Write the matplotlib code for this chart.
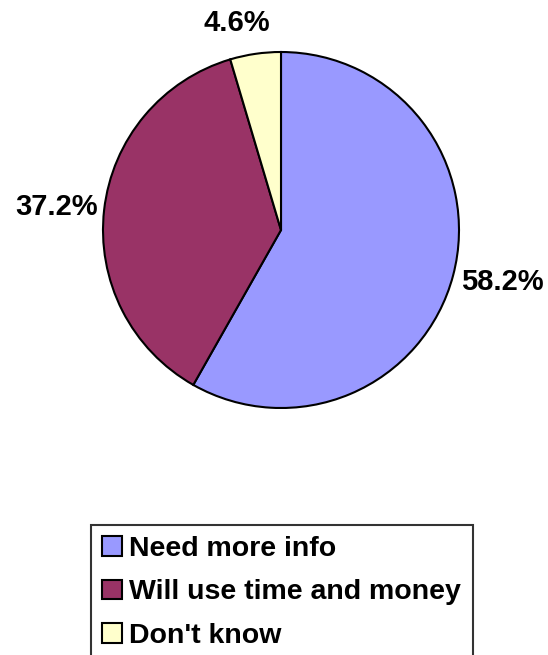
import numpy as np
import matplotlib
matplotlib.use("Agg")
import matplotlib.pyplot as plt

categories = ["Need more info", "Will use time and money", "Don't know"]
values = [58.2, 37.2, 4.6]
colors = ["#9999FF", "#993366", "#FFFFCC"]
label_r = [1.276, 1.27, 1.19]
label_dang = [1.6, 0.7, 3.7]

plt.rcParams['font.family'] = ['Liberation Sans', 'DejaVu Sans']

W, H = 548, 655
fig = plt.figure(figsize=(W / 100, H / 100), dpi=100)
cx, cy, r = 281, 230, 178
ax = fig.add_axes([(cx - r) / W, 1 - (cy + r) / H, 2 * r / W, 2 * r / H])

wedges, _ = ax.pie(values, colors=colors, startangle=90, counterclock=False,
                   radius=1, wedgeprops=dict(edgecolor='black', linewidth=1.5))
ax.set_xlim(-1, 1)
ax.set_ylim(-1, 1)
ax.set_aspect('equal')
ax.axis('off')

for w, v, rr, da in zip(wedges, values, label_r, label_dang):
    mid = np.deg2rad((w.theta1 + w.theta2) / 2 + da)
    ax.text(rr * np.cos(mid), rr * np.sin(mid), f"{v:.1f}%", ha='center', va='center',
            fontsize=21, fontweight='bold', clip_on=False)

leg = fig.legend(wedges, categories, loc='upper left',
                 bbox_to_anchor=(91 / W, 1 - 525 / H),
                 prop=dict(size=20.5, weight='bold'), frameon=True, fancybox=False,
                 handlelength=0.7, handleheight=0.7, handletextpad=0.25,
                 borderpad=0.4, labelspacing=0.6, borderaxespad=0)
leg.get_frame().set_edgecolor('black')
leg.get_frame().set_linewidth(1.5)
for h in leg.legend_handles:
    h.set_edgecolor('black')
    h.set_linewidth(1.5)

fig.savefig("out.png", dpi=100)
